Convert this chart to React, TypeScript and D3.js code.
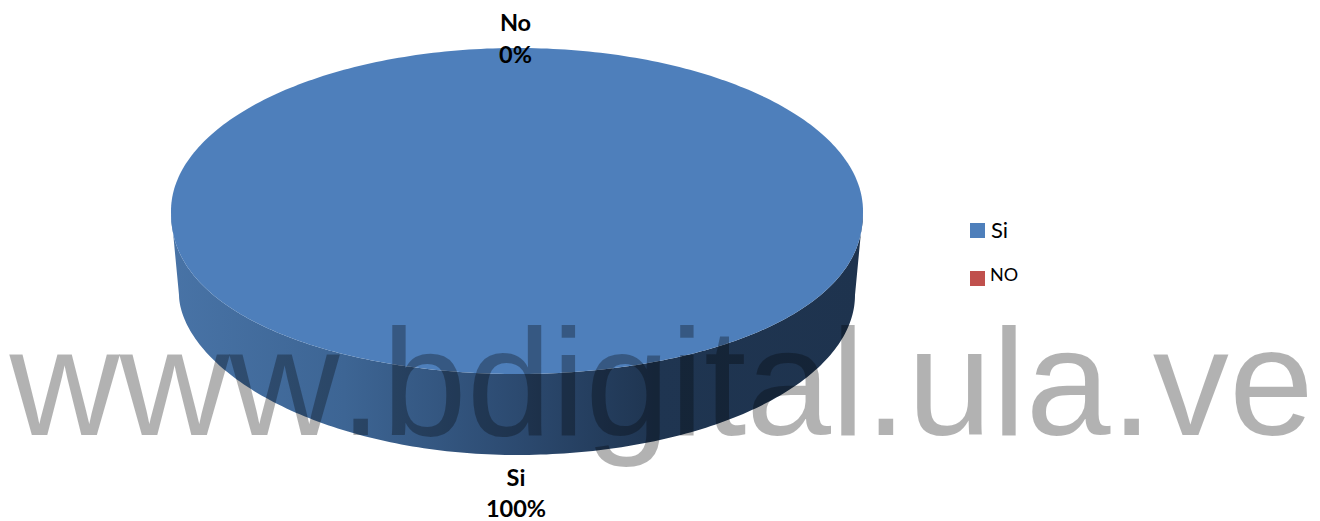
import React from "react";
import * as d3 from "d3";

const categories = ["Si", "No"];
const shares = [100, 0];
const legendLabels = ["Si", "NO"];
const colors = ["#4e7fbb", "#c0504d"];
const watermark = "www.bdigital.ula.ve";

const width = 1320;
const height = 521;

// Perspective makes the near half of each rim fuller or flatter than a true ellipse,
// so the lower half of each outline has its own exponent on each side.
const top = { cx: 517, cy: 211, rx: 346, ry: 163, leftPow: 0.9, rightPow: 0.9 };
const base = { cx: 517, cy: 295, rx: 338, ry: 160, leftPow: 1.1, rightPow: 1.0 };

// Point on an outline for a pie angle measured clockwise from twelve o'clock.
const onRim = (e: typeof top, a: number): [number, number] => {
  const c = Math.cos(a);
  const s = Math.sin(a);
  if (c >= 0) return [e.cx + e.rx * s, e.cy - e.ry * c];
  const p = s >= 0 ? e.rightPow : e.leftPow;
  return [e.cx + e.rx * s, e.cy + e.ry * Math.pow(-c, p)];
};

const steps = (from: number, to: number, n: number) =>
  d3.range(0, n + 1).map((i) => from + ((to - from) * i) / n);

function topPath(start: number, end: number) {
  if (end <= start) return "";
  const rim = steps(start, end, 360).map((a) => onRim(top, a));
  const closedCircle = end - start >= 2 * Math.PI - 1e-6;
  return (d3.line()(closedCircle ? rim : [[top.cx, top.cy], ...rim]) ?? "") + "Z";
}

function sidePath(start: number, end: number) {
  const from = Math.max(start, Math.PI / 2);
  const to = Math.min(end, (3 * Math.PI) / 2);
  if (to <= from) return "";
  const angles = steps(from, to, 180);
  const upper = angles.map((a) => onRim(top, a));
  const lower = angles.slice().reverse().map((a) => onRim(base, a));
  return (d3.line()([...upper, ...lower]) ?? "") + "Z";
}

export default function App() {
  const slices = d3.pie<number>().sort(null)(shares);
  const legendY = d3.scalePoint<string>().domain(legendLabels).range([230.5, 278.5]);

  return (
    <svg
      width={width}
      height={height}
      viewBox={`0 0 ${width} ${height}`}
      style={{ position: "absolute", left: 0, top: 0, background: "#fff" }}
    >
      <defs>
        <linearGradient id="rim" gradientUnits="userSpaceOnUse" x1={172} x2={862} y1={0} y2={0}>
          <stop offset="0" stopColor="#4873a6" />
          <stop offset="0.25" stopColor="#3d6594" />
          <stop offset="0.5" stopColor="#2c4a70" />
          <stop offset="0.7" stopColor="#1f3551" />
          <stop offset="1" stopColor="#1e334e" />
        </linearGradient>
      </defs>

      {slices.map((s, i) => (
        <path key={`side-${categories[i]}`} d={sidePath(s.startAngle, s.endAngle)} fill={i === 0 ? "url(#rim)" : colors[i]} />
      ))}
      {slices.map((s, i) => (
        <path key={`top-${categories[i]}`} d={topPath(s.startAngle, s.endAngle)} fill={colors[i]} />
      ))}

      <g fontFamily="Lato, 'Noto Sans', sans-serif" fontWeight={700} fontSize={23.5} fill="#000" textAnchor="middle">
        <text x={515.5} y={31}>{categories[1]}</text>
        <text x={515.5} y={63}>{shares[1]}%</text>
        <text x={516} y={486}>{categories[0]}</text>
        <text x={516} y={517}>{shares[0]}%</text>
      </g>

      {legendLabels.map((label, i) => (
        <g key={label}>
          <rect x={970} y={(legendY(label) ?? 0) - 7.5} width={15} height={15} fill={colors[i]} />
          <text
            x={i === 0 ? 991 : 990}
            y={i === 0 ? 238 : 281}
            fontFamily="Lato, 'Noto Sans', sans-serif"
            fontSize={i === 0 ? 22 : 18}
            fill="#000"
          >
            {label}
          </text>
        </g>
      ))}

      <text
        x={9.5}
        y={435}
        fontFamily="'Liberation Sans', Arial, sans-serif"
        fontSize={152.4}
        fill="#000"
        fillOpacity={0.3}
        style={{ fontKerning: "none" }}
      >
        {watermark}
      </text>
    </svg>
  );
}
